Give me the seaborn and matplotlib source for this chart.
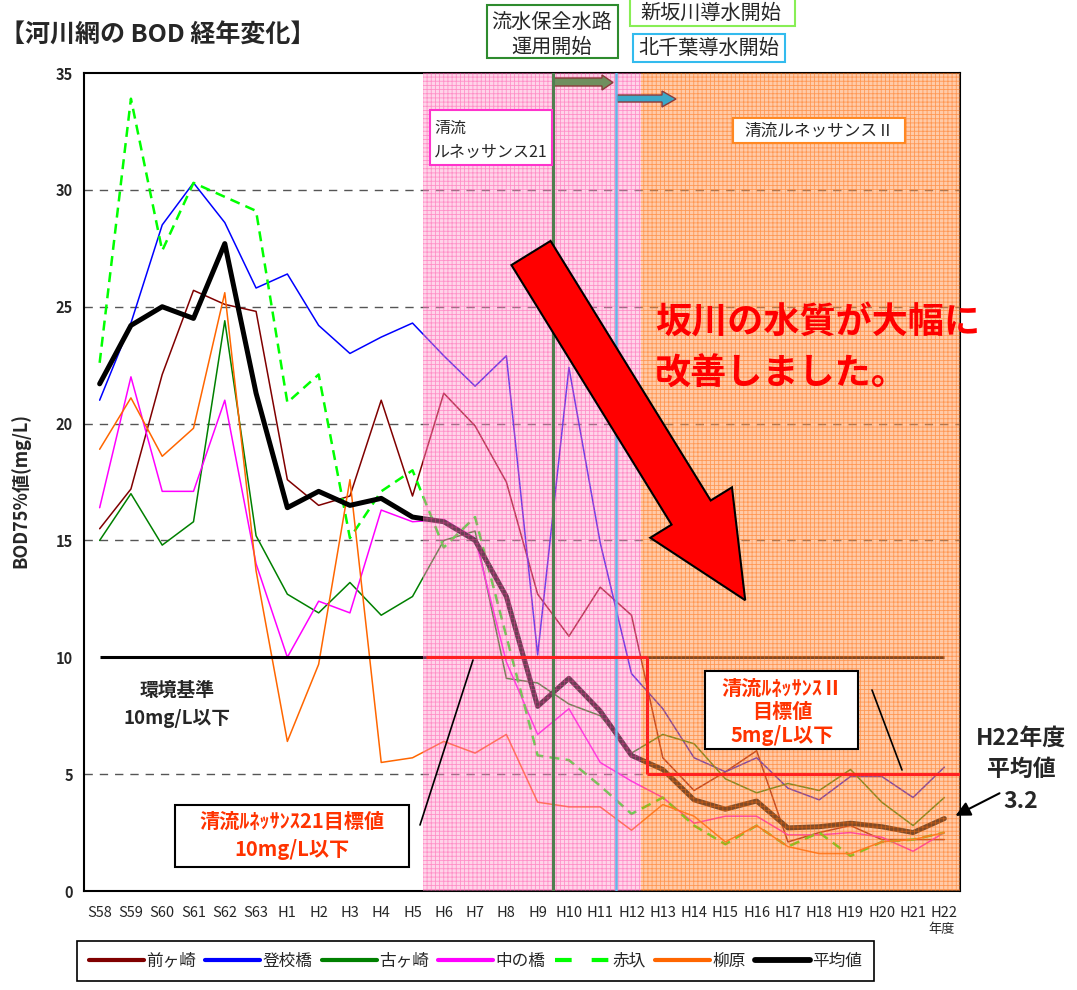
import numpy as np
import pandas as pd
import matplotlib.pyplot as plt
import seaborn as sns
from matplotlib.patches import Polygon, Rectangle, FancyArrowPatch
from matplotlib.lines import Line2D

# 年度
years = ["S58", "S59", "S60", "S61", "S62", "S63", "H1", "H2", "H3", "H4", "H5",
         "H6", "H7", "H8", "H9", "H10", "H11", "H12", "H13", "H14", "H15", "H16",
         "H17", "H18", "H19", "H20", "H21", "H22"]

# 地点別 BOD75%値 (mg/L)
maegasaki = [15.5, 17.2, 22.1, 25.7, 25.1, 24.8, 17.6, 16.5, 16.9, 21.0, 16.9,
             21.3, 19.9, 17.5, 12.7, 10.9, 13.0, 11.8, 5.7, 4.3, 5.1, 6.0,
             2.1, 2.5, 2.8, 2.2, 2.2, 2.2]
toukoubashi = [21.0, 24.3, 28.5, 30.3, 28.6, 25.8, 26.4, 24.2, 23.0, 23.7, 24.3,
               22.9, 21.6, 22.9, 10.1, 22.4, 14.9, 9.3, 7.8, 5.7, 5.1, 5.7,
               4.4, 3.9, 4.9, 4.9, 4.0, 5.3]
furugasaki = [15.0, 17.0, 14.8, 15.8, 24.4, 15.2, 12.7, 11.9, 13.2, 11.8, 12.6,
              15.0, 15.4, 9.1, 8.9, 8.0, 7.5, 5.9, 6.7, 6.3, 4.8, 4.2,
              4.6, 4.3, 5.2, 3.8, 2.8, 4.0]
nakanohashi = [16.4, 22.0, 17.1, 17.1, 21.0, 14.0, 10.0, 12.4, 11.9, 16.3, 15.8,
               15.9, 15.1, 9.8, 6.7, 7.8, 5.5, 4.7, 4.0, 2.9, 3.2, 3.2,
               2.4, 2.4, 2.5, 2.3, 1.7, 2.5]
akaire = [22.6, 33.9, 27.4, 30.3, 29.7, 29.1, 20.9, 22.1, 15.1, 17.1, 18.0,
          14.7, 16.0, 10.9, 5.8, 5.6, 4.5, 3.3, 4.0, 2.8, 2.0, 2.8,
          1.9, 2.5, 1.5, 2.1, 2.2, 2.5]
yanagihara = [18.9, 21.1, 18.6, 19.8, 25.6, 13.7, 6.4, 9.7, 17.6, 5.5, 5.7,
              6.4, 5.9, 6.7, 3.8, 3.6, 3.6, 2.6, 3.7, 3.2, 2.1, 2.8,
              1.9, 1.6, 1.6, 2.1, 2.2, 2.5]
heikin = [21.7, 24.2, 25.0, 24.5, 27.7, 21.3, 16.4, 17.1, 16.5, 16.8, 16.0,
          15.8, 15.0, 12.6, 7.9, 9.1, 7.7, 5.8, 5.2, 3.9, 3.5, 3.85,
          2.7, 2.75, 2.9, 2.75, 2.5, 3.1]

series = [("前ヶ崎", maegasaki, "#800000"),
          ("登校橋", toukoubashi, "#0000ff"),
          ("古ヶ崎", furugasaki, "#008000"),
          ("中の橋", nakanohashi, "#ff00ff"),
          ("赤圦", akaire, "#00ff00"),
          ("柳原", yanagihara, "#ff6600"),
          ("平均値", heikin, "#000000")]

kankyo_kijun = 10
target21 = 10
target2 = 5

sns.set_style("white")
plt.rcParams['font.family'] = ['Noto Sans CJK JP', 'DejaVu Sans']
plt.rcParams['hatch.linewidth'] = 0.6

W, H = 1077, 990
def fp(x, y):
    return (x / W, 1 - y / H)

fig = plt.figure(figsize=(W / 100, H / 100), dpi=100)
ax = fig.add_axes([84 / W, 1 - 891 / H, (960 - 84) / W, (891 - 73) / H])

x = np.arange(len(years))
df = pd.DataFrame({"x": x})
for name, vals, col in series:
    df[name] = vals

# 各地点の線
for name, vals, col in series:
    kw = dict(color=col, lw=1.1, zorder=2)
    if name == "赤圦":
        kw.update(lw=1.8, linestyle=(0, (4, 2.5)))
    if name == "平均値":
        kw.update(lw=3.6, zorder=2.2)
    sns.lineplot(data=df, x="x", y=name, estimator=None, sort=False, ax=ax, **kw)

# 環境基準
ax.hlines(kankyo_kijun, 0, len(years) - 1, color="black", lw=2.2, zorder=2.1)

# 期間の塗り
ax.axvspan(10.32, 17.3, facecolor="#ff99cc", edgecolor="#ff3399", hatch="++++",
           alpha=0.42, lw=0, zorder=3)
ax.axvspan(17.3, 27.5, facecolor="#ff9955", edgecolor="#ff6600", hatch="++++",
           alpha=0.5, lw=0, zorder=3)

# 導水開始の縦線
ax.axvline(14.5, color="#4f7f4f", lw=2.2, zorder=4)
ax.axvline(16.5, color="#66b3e6", lw=1.8, zorder=4)

# 目標値の線
ax.hlines(target21, 10.42, 17.5, color="#ff2020", lw=2.2, zorder=4)
ax.vlines(17.5, target2, target21, color="#ff2020", lw=2.2, zorder=4)
ax.hlines(target2, 17.5, 27.5, color="#ff2020", lw=2.2, zorder=4)

for yv in [5, 15, 20, 25, 30]:
    ax.axhline(yv, color="#555555", lw=1.0, linestyle=(0, (6, 5)), zorder=1)

ax.set_xlim(-0.5, 27.5)
ax.set_ylim(0, 35)
ax.set_xticks(x)
ax.set_xticklabels(years, fontsize=10.5)
ax.set_xticks(np.arange(0.5, 27, 1), minor=True)
ax.tick_params(axis="x", which="major", length=0, pad=11)
ax.tick_params(axis="x", which="minor", direction="in", length=5, width=1)
ax.set_yticks(range(0, 36, 5))
ax.set_yticklabels([str(v) for v in range(0, 36, 5)], fontsize=10.5, fontweight="bold")
ax.tick_params(axis="y", direction="in", length=5, width=1.2, pad=8)
ax.set_xlabel("")
ax.set_ylabel("")
for sp in ax.spines.values():
    sp.set_linewidth(1.5)
    sp.set_color("black")

# 上部の矢印
def add_poly(pts, **kw):
    ax.add_patch(Polygon([fp(*p) for p in pts], closed=True,
                         transform=fig.transFigure, **kw))

add_poly([(554, 78), (602, 78), (602, 75), (613, 82.5), (602, 90), (602, 86), (554, 86)],
         facecolor="#6f8f5f", edgecolor="#8b3a3a", lw=1, zorder=3.5)
add_poly([(617, 95), (662, 95), (662, 91), (676, 99), (662, 107), (662, 102), (617, 102)],
         facecolor="#3aa8c8", edgecolor="#8b3a3a", lw=1, zorder=3.5)

# 大きな赤い矢印
p0 = np.array([531.0, 253.0])
u = np.array([0.525, 0.851])
n = np.array([0.851, -0.525])
b = p0 + 305 * u
tip = p0 + 408 * u
arrow_pts = [p0 - 23 * n, p0 + 23 * n, b + 23 * n, b + 48 * n, tip, b - 48 * n, b - 23 * n]
add_poly([tuple(p) for p in arrow_pts], facecolor="#ff0000", edgecolor="black",
         lw=1.5, zorder=5)

# 枠付きテキスト
def box(x0, y0, x1, y1, ec, lw=1.5, fc="white"):
    fig.add_artist(Rectangle(fp(x0, y1), (x1 - x0) / W, (y1 - y0) / H,
                             transform=fig.transFigure, facecolor=fc,
                             edgecolor=ec, lw=lw, zorder=6))

def txt(xp, yp, s, **kw):
    fig.text(*fp(xp, yp), s, zorder=7, **kw)

box(487, 5, 618, 58, "#2e8b2e")
txt(552, 22, "流水保全水路", ha="center", va="center", fontsize=14.5)
txt(552, 47, "運用開始", ha="center", va="center", fontsize=14.5)
box(630, -3, 795, 26, "#88ee55")
txt(711, 13, "新坂川導水開始", ha="center", va="center", fontsize=14.5)
box(633, 34, 785, 62, "#33bbee")
txt(709, 48, "北千葉導水開始", ha="center", va="center", fontsize=14.5)

box(430, 110, 552, 165, "#ff33cc")
txt(434, 128, "清流", ha="left", va="center", fontsize=11.5)
txt(434, 152, "ルネッサンス21", ha="left", va="center", fontsize=11.5)
box(733, 118, 905, 143, "#ff8822")
txt(819, 131, "清流ルネッサンスⅡ", ha="center", va="center", fontsize=12)

txt(655, 323, "坂川の水質が大幅に", ha="left", va="center", fontsize=26,
    fontweight="bold", color="#ff0000")
txt(655, 374, "改善しました。", ha="left", va="center", fontsize=26,
    fontweight="bold", color="#ff0000")

txt(177, 690, "環境基準", ha="center", va="center", fontsize=13.5, fontweight="bold")
txt(177, 718, "10mg/L以下", ha="center", va="center", fontsize=13.5, fontweight="bold")

box(175, 805, 409, 867, "black")
txt(292, 821, "清流ﾙﾈｯｻﾝｽ21目標値", ha="center", va="center", fontsize=14.5,
    fontweight="bold", color="#ff3300")
txt(292, 849, "10mg/L以下", ha="center", va="center", fontsize=14.5,
    fontweight="bold", color="#ff3300")

box(705, 671, 858, 749, "black")
txt(782, 688, "清流ﾙﾈｯｻﾝｽⅡ", ha="center", va="center", fontsize=14.5,
    fontweight="bold", color="#ff3300")
txt(782, 712, "目標値", ha="center", va="center", fontsize=14.5,
    fontweight="bold", color="#ff3300")
txt(782, 735, "5mg/L以下", ha="center", va="center", fontsize=14.5,
    fontweight="bold", color="#ff3300")

# 引出線
for (xa, ya), (xb, yb) in [((420, 825), (473, 660)), ((872, 690), (902, 770))]:
    fig.add_artist(Line2D([xa / W, xb / W], [1 - ya / H, 1 - yb / H],
                          transform=fig.transFigure, color="black", lw=1.2, zorder=6))

txt(1021, 738, "H22年度", ha="center", va="center", fontsize=16.5, fontweight="bold")
txt(1021, 769, "平均値", ha="center", va="center", fontsize=16.5, fontweight="bold")
txt(1021, 801, "3.2", ha="center", va="center", fontsize=16.5, fontweight="bold")
fig.add_artist(FancyArrowPatch(fp(1002, 792), fp(953, 817), transform=fig.transFigure,
                               arrowstyle="-|>", mutation_scale=22, lw=1.5,
                               color="black", zorder=7))

# タイトル・軸ラベル
txt(0, 36, "【河川網の BOD 経年変化】", ha="left", va="center", fontsize=18,
    fontweight="bold")
txt(20, 490, "BOD75%値(mg/L)", ha="center", va="center", fontsize=13,
    fontweight="bold", rotation=90)
txt(942, 930, "年度", ha="center", va="center", fontsize=9.5)

# 凡例
handles = []
for name, vals, col in series:
    if name == "赤圦":
        handles.append(Line2D([], [], color=col, lw=3, linestyle=(0, (4, 4.8))))
    elif name == "平均値":
        handles.append(Line2D([], [], color=col, lw=4.2))
    else:
        handles.append(Line2D([], [], color=col, lw=3))
leg = fig.legend(handles, [s[0] for s in series], loc="upper left",
                 bbox_to_anchor=fp(77, 941), ncol=7, fontsize=12,
                 handlelength=3.3, handletextpad=0.15, columnspacing=0.55,
                 borderpad=0.7, borderaxespad=0, frameon=True, fancybox=False,
                 edgecolor="black", framealpha=1)
leg.get_frame().set_linewidth(1.2)

fig.savefig("out.png", dpi=100)
